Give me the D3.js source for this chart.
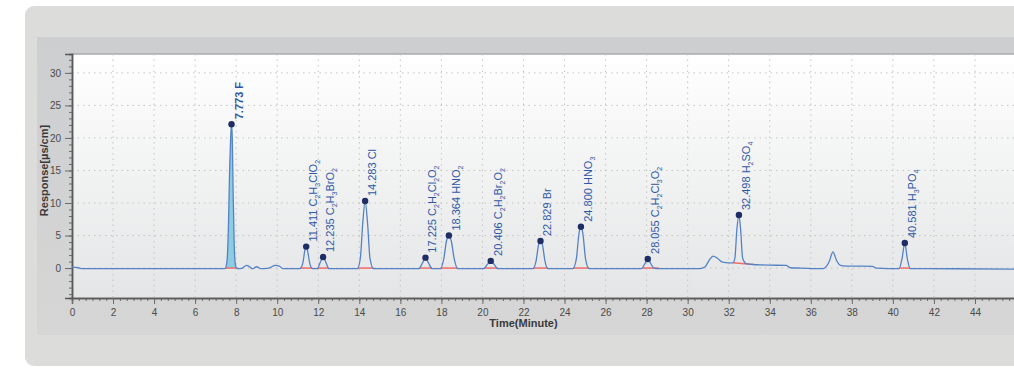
<!DOCTYPE html>
<html>
<head>
<meta charset="utf-8">
<script src="https://cdn.jsdelivr.net/npm/d3@7"></script>
<style>
body { margin: 0; background: #fff; }
text { font-family: "Liberation Sans", Arial, sans-serif; }
</style>
</head>
<body>
<div id="chart"></div>
<script>
// chromatogram trace (minutes, µS/cm)
var signalTime = [0, 0.3, 0.5, 2, 4, 6, 7.45, 7.55, 7.62, 7.68, 7.73, 7.773, 7.81, 7.85, 7.9, 7.95, 8.0, 8.1, 8.3, 8.5, 8.65, 8.8, 9.0, 9.2, 9.6, 9.9, 10.1, 10.3, 11.0,
	11.1, 11.25, 11.35, 11.411, 11.47, 11.58, 11.72, 11.95, 12.1, 12.235, 12.37, 12.52, 13.9, 14.05, 14.17, 14.283, 14.4, 14.52, 14.7,
	16.9, 17.08, 17.225, 17.37, 17.55, 17.95, 18.12, 18.25, 18.364, 18.48, 18.62, 18.8, 20.05, 20.25, 20.406, 20.56, 20.75,
	22.45, 22.62, 22.73, 22.829, 22.93, 23.04, 23.2, 24.4, 24.58, 24.7, 24.8, 24.9, 25.02, 25.2, 27.75, 27.92, 28.055, 28.2, 28.35, 28.6,
	30.6, 30.85, 31.05, 31.24, 31.45, 31.7, 32.0, 32.2, 32.3, 32.4, 32.498, 32.58, 32.68, 32.85, 33.2, 33.5, 34.0, 34.8, 35.0, 35.5, 36.6,
	36.9, 37.08, 37.25, 37.45, 37.7, 38.5, 39.0, 39.2, 40.3, 40.45, 40.581, 40.7, 40.85, 41.5, 46];
var signalResponse = [0.15, 0.05, -0.1, -0.1, -0.1, -0.1, -0.1, 1, 6, 15, 20, 22.1, 20, 12, 4, 0.8, 0.1, -0.1, 0, 0.4, 0.2, -0.1, 0.2, -0.1, 0, 0.4, 0.3, -0.1, -0.1,
	-0.1, 0.8, 2.8, 3.3, 2.8, 0.8, -0.1, -0.1, 0.9, 1.7, 0.9, -0.1, -0.1, 1.5, 7, 10.3, 7, 1.5, -0.1,
	-0.1, 0.8, 1.6, 0.8, -0.1, -0.1, 1.5, 4.2, 5.0, 4.2, 1.5, -0.1, -0.1, 0.6, 1.1, 0.6, -0.1,
	-0.1, 1.2, 3.5, 4.15, 3.5, 1.2, -0.1, -0.1, 1.5, 5.2, 6.35, 5.2, 1.5, -0.1, -0.1, 0.7, 1.4, 0.7, 0, -0.1,
	-0.1, 0.2, 1.2, 1.85, 1.5, 0.9, 0.8, 0.8, 1.5, 6, 8.15, 6, 1.5, 0.7, 0.55, 0.5, 0.45, 0.4, 0.05, 0, -0.1,
	1.0, 2.5, 1.2, 0.4, 0.3, 0.3, 0.25, 0, -0.1, 1.5, 3.85, 1.5, -0.1, -0.1, -0.15];

// identified peaks
var peakTimes = [7.773, 11.411, 12.235, 14.283, 17.225, 18.364, 20.406, 22.829, 24.800, 28.055, 32.498, 40.581];
var peakHeights = [22.1, 3.3, 1.7, 10.3, 1.6, 5.0, 1.1, 4.15, 6.35, 1.4, 8.15, 3.85];
var peakNames = ["7.773 F", "11.411 C_2H_3ClO_2", "12.235 C_2H_3BrO_2", "14.283 Cl", "17.225 C_2H_2Cl_2O_2", "18.364 HNO_2",
	"20.406  C_2H_2Br_2O_2", "22.829  Br", "24.800 HNO_3", "28.055 C_2H_2Cl_3O_2", "32.498 H_2SO_4", "40.581 H_3PO_4"];

// integration baselines (red)
var baseStart = [7.48, 11.12, 11.97, 13.92, 16.92, 17.97, 20.07, 22.47, 24.42, 27.8, 32.2, 40.32];
var baseEnd = [8.02, 11.72, 12.52, 14.7, 17.55, 18.8, 20.75, 23.2, 25.2, 28.6, 33.2, 40.85];
var baseStartLevel = [0, 0, 0, 0, 0, 0, 0, 0, 0, 0, 0.8, 0];
var baseEndLevel = [0, 0, 0, 0, 0, 0, 0, 0, 0, 0, 0.55, 0];

var xTicks = d3.range(0, 46, 2);
var yTicks = [0, 5, 10, 15, 20, 25, 30];

var width = 1014;
var height = 368;
var plotLeft = 72, plotRight = 1016, plotTop = 54, plotBottom = 298;

var signal = signalTime.map((t, i) => ({t: t, v: signalResponse[i]}));

var xScale = d3.scaleLinear().domain([0, 46]).range([plotLeft, plotRight]);
var yScale = d3.scaleLinear().domain([-4.6, 32.9]).range([plotBottom, plotTop]);

var svg = d3.select("#chart").append("svg")
	.attr("width", width)
	.attr("height", height);

var defs = svg.append("defs");
var g1 = defs.append("linearGradient").attr("id", "plotBg").attr("x1", 0).attr("y1", 0).attr("x2", 0).attr("y2", 1);
g1.append("stop").attr("offset", "0%").attr("stop-color", "#ffffff");
g1.append("stop").attr("offset", "100%").attr("stop-color", "#e4e5e6");
var g2 = defs.append("linearGradient").attr("id", "frameBg").attr("x1", 0).attr("y1", 0).attr("x2", 0).attr("y2", 1);
g2.append("stop").attr("offset", "0%").attr("stop-color", "#cdced0");
g2.append("stop").attr("offset", "100%").attr("stop-color", "#d6d6d6");
defs.append("clipPath").attr("id", "clip")
	.append("rect").attr("x", plotLeft).attr("y", plotTop).attr("width", plotRight - plotLeft).attr("height", plotBottom - plotTop);

/* panels */
svg.append("rect")
	.attr("x", 25).attr("y", 6).attr("width", 1010).attr("height", 360).attr("rx", 9)
	.attr("fill", "#dcdcda");
svg.append("rect")
	.attr("x", 37).attr("y", 37).attr("width", 990).attr("height", 298)
	.attr("fill", "url(#frameBg)");
svg.append("rect")
	.attr("x", plotLeft).attr("y", plotTop).attr("width", plotRight - plotLeft).attr("height", plotBottom - plotTop)
	.attr("fill", "url(#plotBg)");
svg.append("line")
	.attr("x1", plotLeft).attr("x2", plotRight).attr("y1", plotTop).attr("y2", plotTop)
	.attr("stroke", "#a9aaac").attr("stroke-width", 1.5);

/* grid */
var grid = svg.append("g").attr("class", "grid")
	.attr("stroke", "#c4c4c4").attr("stroke-dasharray", "1.5,4");
grid.selectAll(".vg").data(xTicks.filter(d => d > 0)).enter()
	.append("line")
	.attr("x1", d => xScale(d)).attr("x2", d => xScale(d))
	.attr("y1", plotTop).attr("y2", plotBottom);
grid.selectAll(".hg").data(yTicks).enter()
	.append("line")
	.attr("y1", d => yScale(d)).attr("y2", d => yScale(d))
	.attr("x1", plotLeft).attr("x2", plotRight);

/* axes */
var xAxis = d3.axisBottom(xScale).tickValues(xTicks).tickSize(6).tickPadding(5);
var xMinor = d3.axisBottom(xScale).tickValues(d3.range(0, 138).map(i => i / 3)).tickSize(3).tickFormat("");
var yAxis = d3.axisLeft(yScale).tickValues(yTicks).tickSize(7).tickPadding(4);
var yMinor = d3.axisLeft(yScale).tickValues(d3.range(-4, 33)).tickSize(3).tickFormat("");

function styleAxis(sel) {
	sel.select(".domain").attr("stroke", "#5a5a5a").attr("stroke-width", 1.5);
	sel.selectAll(".tick line").attr("stroke", "#6a6a6a");
	sel.selectAll(".tick text").attr("fill", "#4a4a4a").style("font-size", "10px");
}

svg.append("g").attr("transform", `translate(0, ${plotBottom})`).call(xMinor).call(styleAxis);
svg.append("g").attr("class", "x axis").attr("transform", `translate(0, ${plotBottom})`).call(xAxis).call(styleAxis);
svg.append("g").attr("transform", `translate(${plotLeft}, 0)`).call(yMinor).call(styleAxis);
svg.append("g").attr("class", "y axis").attr("transform", `translate(${plotLeft}, 0)`).call(yAxis).call(styleAxis);

svg.append("text")
	.attr("x", xScale(22)).attr("y", 327)
	.attr("text-anchor", "middle")
	.attr("fill", "#3a3a3a").style("font-size", "11px").style("font-weight", "bold")
	.text("Time(Minute)");
svg.append("text")
	.attr("transform", `translate(48, ${yScale(15)}) rotate(-90)`)
	.attr("text-anchor", "middle")
	.attr("fill", "#3a3a3a").style("font-size", "11px").style("font-weight", "bold")
	.text("Response[µs/cm]");

/* trace */
var plot = svg.append("g").attr("clip-path", "url(#clip)");

var area = d3.area()
	.x(d => xScale(d.t))
	.y0(yScale(0))
	.y1(d => yScale(d.v))
	.curve(d3.curveMonotoneX);
plot.append("path")
	.attr("d", area(signal.filter(d => d.t >= baseStart[0] - 0.05 && d.t <= baseEnd[0])))
	.attr("fill", "#8ccde2");

plot.selectAll(".base")
	.data(baseStart).enter()
	.append("line")
	.attr("x1", d => xScale(d))
	.attr("x2", (d, i) => xScale(baseEnd[i]))
	.attr("y1", (d, i) => yScale(baseStartLevel[i]))
	.attr("y2", (d, i) => yScale(baseEndLevel[i]))
	.attr("stroke", "#f26b6b").attr("stroke-width", 1.5);

var line = d3.line()
	.x(d => xScale(d.t))
	.y(d => yScale(d.v))
	.curve(d3.curveMonotoneX);
plot.append("path")
	.attr("d", line(signal))
	.attr("fill", "none")
	.attr("stroke", "#5582c6")
	.attr("stroke-width", 1.3);

/* peak markers and labels */
plot.selectAll(".dot")
	.data(peakTimes).enter()
	.append("circle")
	.attr("cx", d => xScale(d))
	.attr("cy", (d, i) => yScale(peakHeights[i]))
	.attr("r", 3.2)
	.attr("fill", "#1e2d66");

var labels = svg.selectAll(".plabel")
	.data(peakNames).enter()
	.append("text")
	.attr("class", "plabel")
	.attr("transform", (d, i) => `translate(${xScale(peakTimes[i]) + 11}, ${yScale(peakHeights[i]) - 5}) rotate(-90)`)
	.attr("fill", "#2f58a4")
	.style("font-size", "11px")
	.style("font-weight", (d, i) => i === 0 ? "bold" : "normal");

labels.each(function(d) {
	var el = d3.select(this);
	var parts = d.split(/(_\d)/).filter(p => p !== "");
	var sub = false;
	parts.forEach(function(p) {
		if (p[0] === "_") {
			el.append("tspan").attr("dy", 3).style("font-size", "7px").text(p.slice(1));
			sub = true;
		} else {
			el.append("tspan").attr("dy", sub ? -3 : 0).text(p);
			sub = false;
		}
	});
});
</script>
</body>
</html>
